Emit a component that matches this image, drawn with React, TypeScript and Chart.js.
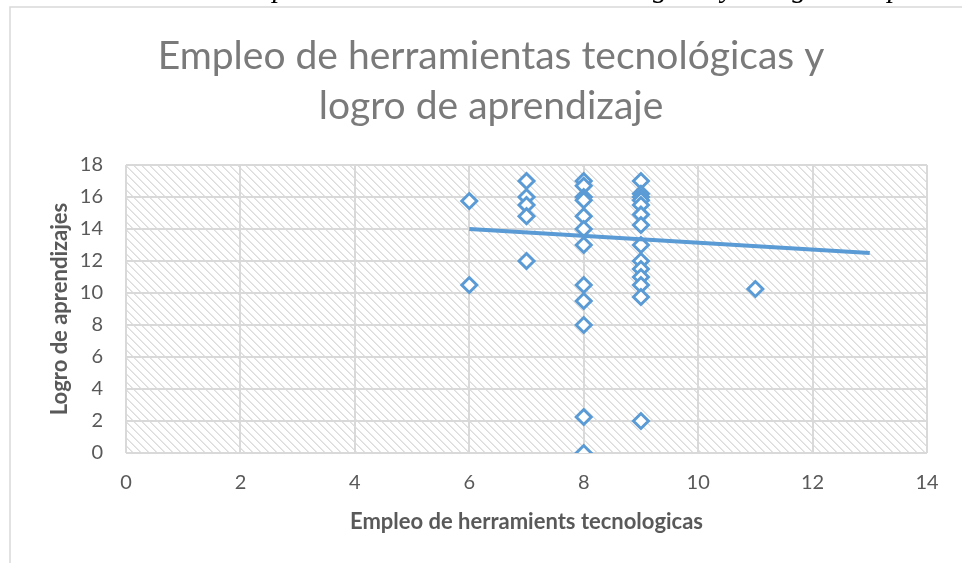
import React, { useEffect, useRef } from "react";
import { Chart, registerables } from "chart.js";

Chart.register(...registerables);

// ---- data ----
const xValues = [
  6, 6,
  7, 7, 7, 7, 7,
  8, 8, 8, 8, 8, 8, 8, 8, 8, 8, 8, 8,
  9, 9, 9, 9, 9, 9, 9, 9, 9, 9, 9, 9, 9, 9,
  11,
];
const yValues = [
  15.75, 10.5,
  17, 16, 15.5, 14.8, 12,
  17, 16.7, 16, 15.8, 14.8, 14, 13, 10.5, 9.5, 8, 2.25, 0,
  17, 16.2, 16, 15.8, 15.5, 14.9, 14.25, 13, 12, 11.5, 11, 10.5, 9.75, 2,
  10.25,
];
const trendX = [6, 13];
const trendY = [14.0, 12.5];

const xMin = 0;
const xMax = 14;
const xStep = 2;
const yMin = 0;
const yMax = 18;
const yStep = 2;

const chartTitle = ["Empleo de herramientas tecnológicas y", "logro de aprendizaje"];
const xAxisTitle = "Empleo de herramients tecnologicas";
const yAxisTitle = "Logro de aprendizajes";
const captionText = "Empleo de las herramientas tecnológicas y el logro de aprendizaje, según";

const BLUE = "#5b9bd5";
const GRID = "#d9d9d9";
const TEXT = "#595959";

export default function App() {
  const ref = useRef<HTMLCanvasElement | null>(null);

  useEffect(() => {
    const canvas = ref.current;
    if (!canvas) return;

    // hatch pattern (wide downward diagonal)
    const pc = document.createElement("canvas");
    pc.width = 8;
    pc.height = 8;
    const p = pc.getContext("2d")!;
    p.fillStyle = "#ffffff";
    p.fillRect(0, 0, 8, 8);
    for (let y = 0; y < 8; y++) {
      for (let x = 0; x < 8; x++) {
        const d = (((x - y) % 8) + 8) % 8;
        if (d < 2) {
          p.fillStyle = d === 0 ? "#dcdcdc" : "#e8e8e8";
          p.fillRect(x, y, 1, 1);
        }
      }
    }
    const ctx0 = canvas.getContext("2d")!;
    const pattern = ctx0.createPattern(pc, "repeat");

    const decor = {
      id: "decor",
      beforeDraw(chart: any) {
        const ctx = chart.ctx as CanvasRenderingContext2D;
        const { left, top, right, bottom } = chart.chartArea;
        ctx.save();
        ctx.fillStyle = "#ffffff";
        ctx.fillRect(0, 0, chart.width, chart.height);

        // clipped caption line at very top
        ctx.font = "italic 29px 'Liberation Serif'";
        ctx.fillStyle = "#000000";
        ctx.textAlign = "left";
        ctx.textBaseline = "alphabetic";
        const x0 = 280 - ctx.measureText("Em").width - ctx.measureText("p").width / 2;
        ctx.fillText(captionText, x0, -3);

        // chart frame
        ctx.strokeStyle = GRID;
        ctx.lineWidth = 1.5;
        ctx.beginPath();
        ctx.moveTo(10, chart.height);
        ctx.lineTo(10, 7);
        ctx.lineTo(chart.width, 7);
        ctx.stroke();

        // plot area hatch
        if (pattern) {
          ctx.fillStyle = pattern;
          ctx.fillRect(left, top, right - left, bottom - top);
        }

        // title
        ctx.font = "39px Lato";
        ctx.fillStyle = "#7a7a7a";
        ctx.textAlign = "center";
        ctx.fillText(chartTitle[0], 491, 69);
        ctx.fillText(chartTitle[1], 491, 119);

        // axis titles
        ctx.font = "bold 22px Lato";
        ctx.fillStyle = TEXT;
        ctx.textBaseline = "middle";
        ctx.fillText(xAxisTitle, (left + right) / 2, 522);
        ctx.save();
        ctx.translate(60, (top + bottom) / 2);
        ctx.rotate(-Math.PI / 2);
        ctx.fillText(yAxisTitle, 0, 0);
        ctx.restore();

        ctx.restore();
      },
    };

    const chart = new Chart(canvas, {
      type: "scatter",
      data: {
        datasets: [
          {
            type: "line",
            data: trendX.map((x, i) => ({ x, y: trendY[i] })),
            borderColor: BLUE,
            borderWidth: 4,
            pointRadius: 0,
            fill: false,
            order: 0,
          } as any,
          {
            type: "scatter",
            data: xValues.map((x, i) => ({ x, y: yValues[i] })),
            pointStyle: "rectRot",
            pointRadius: 7.5,
            borderWidth: 3,
            borderColor: BLUE,
            backgroundColor: "#ffffff",
            order: 1,
          } as any,
        ],
      },
      options: {
        animation: false,
        responsive: false,
        devicePixelRatio: 1,
        layout: { padding: { left: 0, top: 165, right: 35, bottom: 0 } },
        plugins: {
          legend: { display: false },
          tooltip: { enabled: false },
          title: { display: false },
        },
        scales: {
          x: {
            type: "linear",
            min: xMin,
            max: xMax,
            ticks: {
              stepSize: xStep,
              color: TEXT,
              font: { family: "Lato", size: 20 },
              padding: 18,
            },
            grid: { color: GRID, lineWidth: 2, drawTicks: false },
            border: { display: false },
            afterFit: (s: any) => {
              s.height = 110;
            },
          },
          y: {
            type: "linear",
            min: yMin,
            max: yMax,
            ticks: {
              stepSize: yStep,
              color: TEXT,
              font: { family: "Lato", size: 20 },
              padding: 23,
            },
            grid: { color: GRID, lineWidth: 2, drawTicks: false },
            border: { display: false },
            afterFit: (s: any) => {
              s.width = 126;
            },
          },
        },
      } as any,
      plugins: [decor],
    });

    return () => chart.destroy();
  }, []);

  return (
    <div style={{ position: "absolute", left: 0, top: 0, width: 962, height: 563 }}>
      <canvas ref={ref} width={962} height={563} style={{ display: "block" }} />
    </div>
  );
}
